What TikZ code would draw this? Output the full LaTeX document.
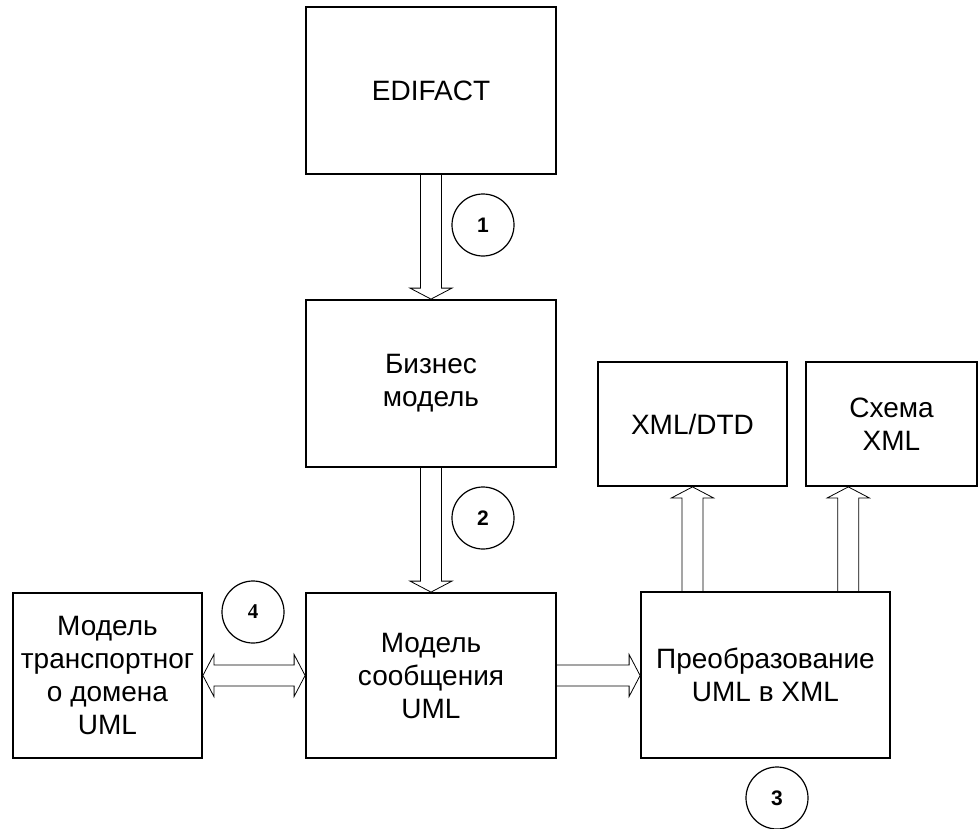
\documentclass[tikz,border=0pt]{standalone}
\usepackage{fontspec}
\setmainfont{Liberation Sans}
\newfontfamily\numserif{Liberation Serif}
\usepackage{tikz}
\usetikzlibrary{calc}
\usetikzlibrary{positioning}

\newcommand{\arrshaft}{5.25pt}
\newcommand{\arrhead}{10.5pt}
\newcommand{\arrlen}{5.5pt}

\tikzset{
  box/.style={draw, line width=0.9pt, inner sep=0pt, align=center,
    font=\fontsize{14}{16.5}\selectfont},
  numcirc/.style={draw, circle, line width=0.6pt, inner sep=0pt,
    minimum size=31pt, font=\fontsize{10.5}{12}\selectfont\bfseries},
  hollow/.style={line width=0.7pt, to path={
    ($(\tikztotarget)!\arrlen!(\tikztostart)$) coordinate (hb)
    ($(\tikztostart)!\arrshaft!90:(\tikztotarget)$) -- ($(hb)!\arrshaft!90:(\tikztotarget)$)
    -- ($(hb)!\arrhead!90:(\tikztotarget)$) -- (\tikztotarget)
    -- ($(hb)!\arrhead!-90:(\tikztotarget)$) -- ($(hb)!\arrshaft!-90:(\tikztotarget)$)
    -- ($(\tikztostart)!\arrshaft!-90:(\tikztotarget)$)}},
  hollowboth/.style={line width=0.7pt, to path={
    ($(\tikztostart)!\arrlen!(\tikztotarget)$) coordinate (ha)
    ($(\tikztotarget)!\arrlen!(\tikztostart)$) coordinate (hb)
    (\tikztostart) -- ($(ha)!\arrhead!90:(\tikztotarget)$) -- ($(ha)!\arrshaft!90:(\tikztotarget)$)
    -- ($(hb)!\arrshaft!90:(\tikztotarget)$) -- ($(hb)!\arrhead!90:(\tikztotarget)$)
    -- (\tikztotarget)
    -- ($(hb)!\arrhead!-90:(\tikztotarget)$) -- ($(hb)!\arrshaft!-90:(\tikztotarget)$)
    -- ($(ha)!\arrshaft!-90:(\tikztotarget)$) -- ($(ha)!\arrhead!-90:(\tikztotarget)$) -- cycle}}
}

\begin{document}
\begin{tikzpicture}[x=0.5pt, y=-0.5pt]

\useasboundingbox (0,0) rectangle (980,829);

\node[box, minimum width=125pt, minimum height=83.5pt] (edi) at (431,90.5) {EDIFACT};
\node[box, minimum width=125pt, minimum height=83.5pt] (biz) at (431,383.5) {Бизнес\\модель};
\node[box, minimum width=125pt, minimum height=82.5pt] (msg) at (431,675.5) {Модель\\сообщения\\UML};
\node[box, minimum width=94.5pt, minimum height=82.5pt] (trans) at (107.5,675.5) {Модель\\транспортног\\о домена\\UML};
\node[box, minimum width=124.5pt, minimum height=83pt] (conv) at (765.5,675) {Преобразование\\UML в XML};
\node[box, minimum width=94.5pt, minimum height=62pt] (dtd) at (692.5,424) {XML/DTD};
\node[box, minimum width=85.5pt, minimum height=62pt] (xsd) at (891.5,424) {Схема\\XML};

\node[numcirc] (n1) at (483,225) {1};
\node[numcirc] (n2) at (483,518) {2};
\node[numcirc] (n3) at (777,798) {3};
\node[numcirc, font=\fontsize{10.5}{12}\selectfont\bfseries\numserif] (n4) at (253,612) {4};

\draw (edi.south) to[hollow] (biz.north);
\draw (biz.south) to[hollow] (msg.north);
\draw (msg.east) to[hollow] (msg.east -| conv.west);
\draw (trans.east) to[hollowboth] (msg.west);

\coordinate (xsdin) at ($(xsd.south west)!0.25!(xsd.south east)$);
\draw (conv.north -| dtd.south) to[hollow] (dtd.south);
\draw (conv.north -| xsdin) to[hollow] (xsdin);

\end{tikzpicture}
\end{document}
